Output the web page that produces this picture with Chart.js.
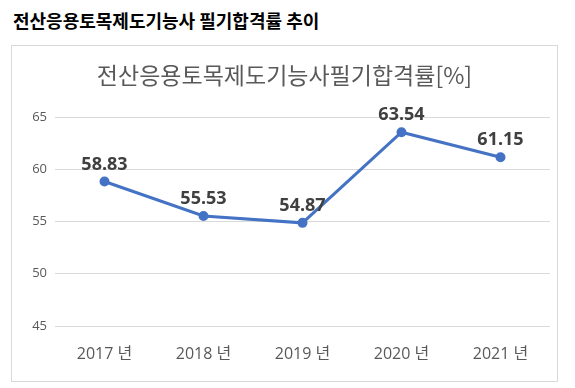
<!DOCTYPE html>
<html>
<head>
<meta charset="utf-8">
<script src="https://cdn.jsdelivr.net/npm/chart.js@4"></script>
<style>
  body { margin: 0; background: #fff; width: 575px; height: 388px; position: relative; overflow: hidden; }
  #heading {
    position: absolute; left: 13px; top: 7px;
    font: bold 18px "Noto Sans CJK KR", sans-serif; color: #000;
  }
  #box {
    position: absolute; left: 11px; top: 45px; width: 545px; height: 335px;
    border: 1px solid #d9d9d9;
  }
  canvas { display: block; }
</style>
</head>
<body>
<div id="heading">전산응용토목제도기능사 필기합격률 추이</div>
<div id="box"><canvas id="chart" width="545" height="335"></canvas></div>
<script>
// --- DATA ---
const years = ["2017 년", "2018 년", "2019 년", "2020 년", "2021 년"];
const passRates = [58.83, 55.53, 54.87, 63.54, 61.15];
const yTicks = [45, 50, 55, 60, 65];
const chartTitle = "전산응용토목제도기능사필기합격률[%]";

const FONT = "'Open Sans', 'Noto Sans CJK KR', sans-serif";

// draws the centered title and the value labels above each point
const labelPlugin = {
  id: "labels",
  afterDatasetsDraw(chart) {
    const ctx = chart.ctx;
    ctx.save();
    ctx.fillStyle = "#595959";
    ctx.font = "23px 'Noto Sans CJK KR', sans-serif";
    ctx.textAlign = "center";
    ctx.textBaseline = "middle";
    ctx.fillText(chartTitle, chart.width / 2, 29);

    ctx.fillStyle = "#404040";
    ctx.font = "bold 18px " + FONT;
    ctx.textBaseline = "bottom";
    chart.getDatasetMeta(0).data.forEach((pt, i) => {
      ctx.fillText(passRates[i].toFixed(2), pt.x, pt.y - 8);
    });
    ctx.restore();
  }
};

new Chart(document.getElementById("chart"), {
  type: "line",
  data: {
    labels: years,
    datasets: [{
      data: passRates,
      borderColor: "#4472C4",
      backgroundColor: "#4472C4",
      borderWidth: 3,
      pointRadius: 3.5,
      tension: 0
    }]
  },
  options: {
    responsive: false,
    animation: false,
    layout: { padding: { top: 71, right: 7, left: 0, bottom: 0 } },
    plugins: { legend: { display: false }, tooltip: { enabled: false } },
    scales: {
      x: {
        offset: true,
        grid: { display: false, drawTicks: false },
        border: { display: false },
        ticks: { color: "#595959", font: { family: FONT, size: 16 }, padding: 19 },
        afterFit: s => { s.height = 55; }
      },
      y: {
        min: 45, max: 65,
        afterBuildTicks: s => { s.ticks = yTicks.map(v => ({ value: v })); },
        grid: { color: "#d9d9d9", drawTicks: false },
        border: { display: false },
        ticks: { color: "#595959", font: { family: FONT, size: 13 }, padding: 8 },
        afterFit: s => { s.width = 43; }
      }
    }
  },
  plugins: [labelPlugin]
});
</script>
</body>
</html>
